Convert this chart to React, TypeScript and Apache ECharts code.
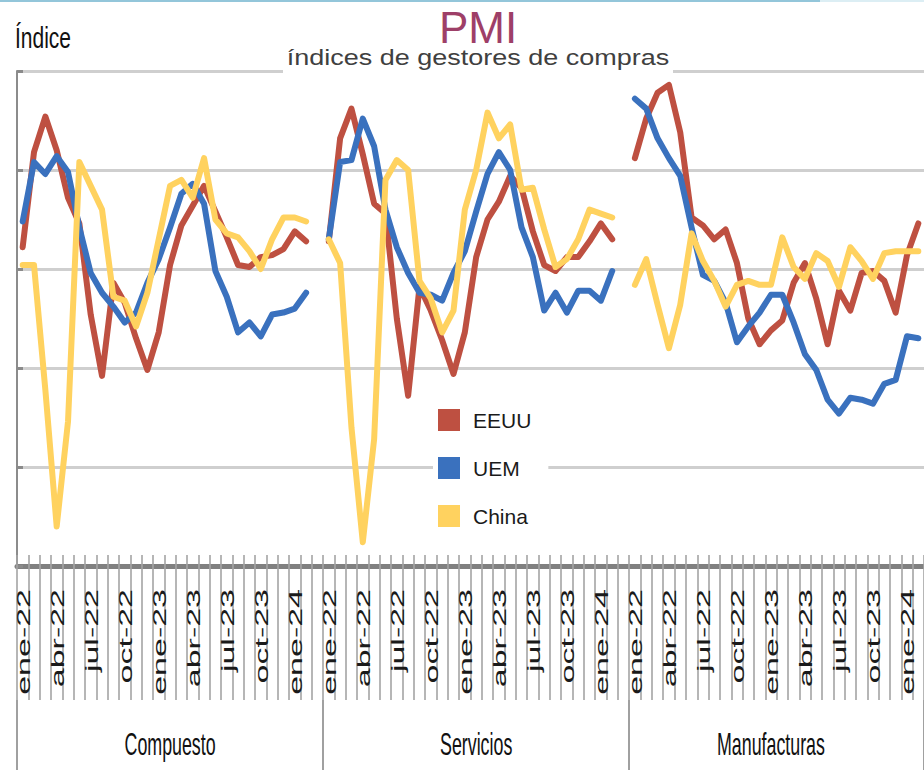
import React, { useEffect, useRef } from "react";
import * as echarts from "echarts";

// ---------- data ----------
const MONTHS = [
  "ene-22", "feb-22", "mar-22", "abr-22", "may-22", "jun-22", "jul-22", "ago-22", "sep-22", "oct-22", "nov-22", "dic-22",
  "ene-23", "feb-23", "mar-23", "abr-23", "may-23", "jun-23", "jul-23", "ago-23", "sep-23", "oct-23", "nov-23", "dic-23",
  "ene-24", "feb-24",
];
const TICK_LABELS = ["ene-22", "abr-22", "jul-22", "oct-22", "ene-23", "abr-23", "jul-23", "oct-23", "ene-24"];
const GROUPS = ["Compuesto", "Servicios", "Manufacturas"];
const SERIES_NAMES = ["EEUU", "UEM", "China"];

// Compuesto
const EEUU_COMPUESTO = [51.1, 55.9, 57.7, 56.0, 53.6, 52.3, 47.7, 44.6, 49.3, 48.3, 46.5, 44.9, 46.8, 50.2, 52.2, 53.2, 54.2, 52.9, 51.6, 50.2, 50.1, 50.6, 50.7, 51.0, 51.9, 51.4];
const UEM_COMPUESTO = [52.4, 55.4, 54.8, 55.7, 54.9, 52.1, 49.8, 48.8, 48.1, 47.3, 47.8, 49.3, 50.5, 52.1, 53.8, 54.3, 53.3, 49.9, 48.6, 46.8, 47.3, 46.6, 47.7, 47.8, 48.0, 48.8];
const CHINA_COMPUESTO = [50.2, 50.2, 43.9, 37.0, 42.3, 55.4, 54.2, 53.0, 48.6, 48.4, 47.1, 48.8, 51.5, 54.2, 54.5, 53.6, 55.6, 52.5, 51.8, 51.6, 50.9, 50.0, 51.5, 52.6, 52.6, 52.4];
// Servicios
const EEUU_SERVICIOS = [51.4, 56.6, 58.1, 55.8, 53.3, 52.8, 47.5, 43.6, 49.1, 47.9, 46.4, 44.7, 46.8, 50.6, 52.5, 53.4, 54.7, 54.1, 51.9, 50.2, 49.9, 50.6, 50.6, 51.4, 52.3, 51.5];
const UEM_SERVICIOS = [51.5, 55.4, 55.5, 57.6, 56.2, 53.0, 51.1, 49.8, 48.8, 48.7, 48.4, 49.8, 50.9, 52.9, 54.8, 55.9, 55.0, 52.1, 50.6, 47.9, 48.8, 47.8, 48.9, 48.9, 48.4, 49.9];
const CHINA_SERVICIOS = [51.5, 50.3, 42.0, 36.2, 41.4, 54.5, 55.5, 55.0, 49.4, 48.5, 46.8, 47.9, 53.0, 55.0, 57.9, 56.6, 57.3, 54.0, 54.1, 52.0, 50.1, 50.5, 51.5, 53.0, 52.8, 52.6];
// Manufacturas
const EEUU_MANUFACTURAS = [55.6, 57.6, 58.9, 59.3, 56.9, 52.6, 52.2, 51.5, 52.0, 50.3, 47.5, 46.2, 46.9, 47.4, 49.3, 50.3, 48.5, 46.2, 48.9, 47.9, 49.8, 49.9, 49.4, 47.8, 50.7, 52.3];
const UEM_MANUFACTURAS = [58.6, 58.1, 56.6, 55.6, 54.7, 52.1, 49.7, 49.4, 48.3, 46.3, 47.1, 47.8, 48.7, 48.7, 47.3, 45.7, 44.9, 43.4, 42.7, 43.5, 43.4, 43.2, 44.2, 44.4, 46.6, 46.5];
const CHINA_MANUFACTURAS = [49.2, 50.5, 48.2, 46.0, 48.2, 51.8, 50.4, 49.4, 48.1, 49.2, 49.4, 49.2, 49.2, 51.6, 50.1, 49.5, 50.8, 50.4, 49.1, 51.1, 50.4, 49.5, 50.8, 50.9, 50.9, 50.9];

const Y_MIN = 35;
const Y_MAX = 60;
const Y_STEP = 5;

// ---------- styles ----------
const COLORS = ["#BE5041", "#3A71BE", "#FFD25F"];
const FONT = '"Liberation Sans", Arial, Helvetica, sans-serif';

export default function App() {
  const ref = useRef<HTMLDivElement>(null);

  useEffect(() => {
    const el = ref.current;
    if (!el) return;
    const chart = echarts.init(el, null, { renderer: "svg" });

    // categories: the three panels, with a blank cell between them
    const categories: string[] = [];
    const groupStarts: number[] = [];
    const groupLens: number[] = [];
    GROUPS.forEach((g, gi) => {
      groupStarts.push(categories.length);
      MONTHS.forEach((m) => categories.push(m));
      if (gi < GROUPS.length - 1) categories.push(" ".repeat(gi + 1));
      groupLens.push(categories.length - groupStarts[gi]);
    });

    const join = (a: number[], b: number[], c: number[]) => [...a, null, ...b, null, ...c];
    const seriesData = [
      join(EEUU_COMPUESTO, EEUU_SERVICIOS, EEUU_MANUFACTURAS),
      join(UEM_COMPUESTO, UEM_SERVICIOS, UEM_MANUFACTURAS),
      join(CHINA_COMPUESTO, CHINA_SERVICIOS, CHINA_MANUFACTURAS),
    ];

    const gridBox = { left: 17, top: 71, width: 907, height: 495, outerBoundsMode: "none", containLabel: false };
    const tickStyle = { color: "#A4A4A4", width: 1.6 };

    const option: any = {
      animation: false,
      backgroundColor: "#ffffff",
      grid: [gridBox, { ...gridBox }, { ...gridBox }],
      legend: {
        data: SERIES_NAMES,
        orient: "vertical",
        left: 433,
        top: 404,
        itemWidth: 22,
        itemHeight: 22,
        itemGap: 26,
        icon: "rect",
        backgroundColor: "#ffffff",
        padding: [5, 17, 5, 5],
        itemStyle: { borderWidth: 0 },
        textStyle: { fontSize: 21, color: "#1a1a1a", fontFamily: FONT, padding: [0, 0, 0, 8] },
      },
      xAxis: [
        {
          type: "category",
          gridIndex: 0,
          data: categories,
          boundaryGap: true,
          axisLine: { show: true, onZero: false, lineStyle: { color: "#808080", width: 5 } },
          axisTick: { show: true, interval: 0, length: 134, lineStyle: tickStyle },
          axisLabel: { show: false },
          splitLine: { show: false },
        },
        {
          type: "category",
          gridIndex: 1,
          data: categories,
          boundaryGap: true,
          axisLine: { show: false },
          axisTick: { show: true, inside: true, interval: 0, length: 11, lineStyle: tickStyle },
          axisLabel: { show: false },
          splitLine: { show: false },
        },
        {
          type: "category",
          gridIndex: 2,
          data: categories,
          boundaryGap: true,
          offset: 134,
          axisLine: { show: false },
          axisTick: {
            show: true,
            length: 70,
            interval: (i: number) => groupStarts.includes(i),
            lineStyle: { color: "#A0A0A0", width: 2 },
          },
          axisLabel: { show: false },
          splitLine: { show: false },
        },
      ],
      yAxis: [
        {
          type: "value",
          gridIndex: 0,
          min: Y_MIN,
          max: Y_MAX,
          interval: Y_STEP,
          axisLine: { show: true, lineStyle: { color: "#8C8C8C", width: 2 } },
          axisTick: { show: true, inside: true, length: 6, lineStyle: { color: "#8A8A8A", width: 3 } },
          axisLabel: { show: false },
          splitLine: { show: true, lineStyle: { color: "#CFCFCF", width: 3 } },
        },
        { type: "value", gridIndex: 1, min: Y_MIN, max: Y_MAX, show: false, splitLine: { show: false } },
        { type: "value", gridIndex: 2, min: Y_MIN, max: Y_MAX, show: false, splitLine: { show: false } },
      ],
      series: SERIES_NAMES.map((name, k) => ({
        type: "line",
        name,
        xAxisIndex: 0,
        yAxisIndex: 0,
        data: seriesData[k],
        symbol: "none",
        showSymbol: false,
        connectNulls: false,
        z: 3 + k,
        itemStyle: { color: COLORS[k] },
        lineStyle: { color: COLORS[k], width: 6, cap: "round", join: "round" },
        emphasis: { disabled: true },
      })),
    };

    chart.setOption(option);

    const px = (i: number) => chart.convertToPixel({ xAxisIndex: 0 }, i) as number;

    const els: any[] = [
      { type: "line", shape: { x1: 0, y1: 1, x2: 820, y2: 1 }, style: { stroke: "#93C6DA", lineWidth: 2 }, z: 20 },
      { type: "line", shape: { x1: 820, y1: 1, x2: 924, y2: 1 }, style: { stroke: "#DCEEF4", lineWidth: 2 }, z: 20 },
      {
        type: "text",
        x: 15,
        y: 38,
        scaleX: 0.7,
        z: 20,
        style: { text: "Índice", fontSize: 30, fontFamily: FONT, fill: "#111111", align: "left", textAlign: "left", verticalAlign: "middle", textVerticalAlign: "middle" },
      },
      {
        type: "text",
        x: 478,
        y: 27,
        z: 20,
        style: { text: "PMI", fontSize: 44, fontFamily: FONT, fill: "#9E3F68", align: "center", textAlign: "center", verticalAlign: "middle", textVerticalAlign: "middle" },
      },
      { type: "rect", shape: { x: 283, y: 44, width: 390, height: 32 }, style: { fill: "#ffffff" }, z: 20 },
      {
        type: "text",
        x: 478,
        y: 57,
        scaleX: 1.2,
        z: 21,
        style: { text: "índices de gestores de compras", fontSize: 22.5, fontFamily: FONT, fill: "#404040", align: "center", textAlign: "center", verticalAlign: "middle", textVerticalAlign: "middle" },
      },
    ];

    // month tick labels (rotated, condensed)
    groupStarts.forEach((s) => {
      MONTHS.forEach((m, j) => {
        if (!TICK_LABELS.includes(m)) return;
        els.push({
          type: "text",
          x: px(s + j) + 1,
          y: 589,
          rotation: Math.PI / 2,
          scaleY: 0.52,
          z: 20,
          style: { text: m, fontSize: 34, fontFamily: FONT, fill: "#1a1a1a", align: "right", textAlign: "right", verticalAlign: "middle", textVerticalAlign: "middle" },
        });
      });
    });

    // group labels
    GROUPS.forEach((g, gi) => {
      const c = px(groupStarts[gi] + Math.floor((groupLens[gi] - 1) / 2));
      els.push({
        type: "text",
        x: c,
        y: 744,
        scaleX: 0.575,
        z: 20,
        style: { text: g, fontSize: 31, fontFamily: FONT, fill: "#111111", align: "center", textAlign: "center", verticalAlign: "middle", textVerticalAlign: "middle" },
      });
    });

    chart.setOption({ graphic: { elements: els } });

    return () => {
      chart.dispose();
    };
  }, []);

  return (
    <div
      ref={ref}
      style={{ position: "fixed", left: 0, top: 0, width: 924, height: 770, background: "#ffffff" }}
    />
  );
}
